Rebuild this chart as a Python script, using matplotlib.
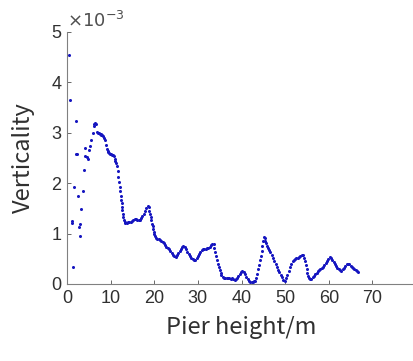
import numpy as np
import matplotlib
matplotlib.use("Agg")
import matplotlib.pyplot as plt

# scattered readings near the pier base
x_base = [0.5, 0.75, 1.1, 1.2, 1.3, 1.7, 2.0, 2.0, 2.2, 2.5, 2.8, 2.9, 3.0, 3.3,
          3.6, 3.8, 4.2, 4.2, 4.5, 4.8, 5.1, 5.35, 5.6, 5.9, 6.1, 6.3, 6.5, 6.7]
y_base = [4.54, 3.66, 1.25, 1.22, 0.34, 1.93, 3.24, 2.58, 2.57, 1.75, 1.13, 0.95, 1.19, 1.49,
          1.85, 2.26, 2.70, 2.53, 2.52, 2.49, 2.66, 2.74, 2.86, 3.00, 3.13, 3.18, 3.19, 3.17]

# readings along the rest of the pier
x_main = [6.9, 7.1, 7.3, 7.5, 7.7, 7.9, 8.1, 8.3, 8.5, 8.7, 8.9, 9.1, 9.3, 9.5, 9.7, 9.9,
          10.1, 10.3, 10.5, 10.7, 10.9, 11.1, 11.3, 11.5, 11.65, 11.8, 11.95, 12.1, 12.2, 12.3,
          12.4, 12.5, 12.6, 12.7, 12.8, 12.9, 13.0, 13.2, 13.4, 13.7, 14.0, 14.3, 14.6, 14.9,
          15.2, 15.5, 15.8, 16.1, 16.4, 16.7, 17.0, 17.3, 17.6, 17.9, 18.2, 18.5, 18.7, 18.85,
          19.0, 19.15, 19.3, 19.45, 19.6, 19.75, 19.9, 20.05, 20.2, 20.4, 20.7, 21.0, 21.3, 21.6,
          21.9, 22.2, 22.5, 22.8, 23.1, 23.4, 23.7, 24.0, 24.3, 24.6, 24.9, 25.2, 25.5, 25.8,
          26.1, 26.4, 26.7, 27.0, 27.3, 27.6, 27.9, 28.2, 28.5, 28.8, 29.1, 29.4, 29.7, 30.0,
          30.3, 30.6, 30.9, 31.2, 31.5, 31.8, 32.1, 32.4, 32.7, 33.0, 33.3, 33.6, 33.8, 34.0,
          34.2, 34.4, 34.6, 34.8, 35.0, 35.2, 35.4, 35.7, 36.0, 36.3, 36.6, 36.9, 37.2, 37.5,
          37.8, 38.1, 38.4, 38.7, 39.0, 39.3, 39.6, 39.9, 40.2, 40.5, 40.8, 41.1, 41.4, 41.7,
          42.0, 42.3, 42.6, 42.9, 43.2, 43.4, 43.6, 43.8, 44.0, 44.2, 44.4, 44.6, 44.8, 44.95,
          45.1, 45.3, 45.5, 45.7, 45.9, 46.1, 46.3, 46.6, 46.9, 47.2, 47.5, 47.8, 48.1, 48.4,
          48.7, 49.0, 49.3, 49.6, 49.9, 50.2, 50.5, 50.8, 51.1, 51.4, 51.7, 52.0, 52.3, 52.6,
          52.9, 53.2, 53.5, 53.8, 54.1, 54.3, 54.5, 54.7, 54.9, 55.1, 55.3, 55.5, 55.7, 56.0,
          56.3, 56.6, 56.9, 57.2, 57.5, 57.8, 58.1, 58.4, 58.7, 59.0, 59.3, 59.6, 59.9, 60.2,
          60.5, 60.8, 61.1, 61.4, 61.7, 62.0, 62.3, 62.6, 62.9, 63.2, 63.5, 63.8, 64.1, 64.4,
          64.7, 65.0, 65.3, 65.6, 65.9, 66.2, 66.5, 66.8]
y_main = [3.02, 3.00, 3.00, 2.98, 2.97, 2.96, 2.95, 2.93, 2.90, 2.85, 2.76, 2.68, 2.64, 2.62, 2.59, 2.58,
          2.57, 2.56, 2.55, 2.53, 2.49, 2.45, 2.40, 2.34, 2.24, 2.12, 2.02, 1.93, 1.84, 1.75,
          1.67, 1.60, 1.53, 1.46, 1.39, 1.32, 1.26, 1.23, 1.22, 1.22, 1.23, 1.23, 1.24, 1.25,
          1.27, 1.28, 1.28, 1.27, 1.26, 1.27, 1.30, 1.34, 1.39, 1.44, 1.50, 1.55, 1.52, 1.45,
          1.39, 1.32, 1.26, 1.20, 1.15, 1.10, 1.04, 0.99, 0.95, 0.92, 0.90, 0.89, 0.87, 0.86,
          0.84, 0.81, 0.78, 0.74, 0.71, 0.69, 0.66, 0.62, 0.58, 0.55, 0.54, 0.57, 0.61, 0.65,
          0.69, 0.73, 0.75, 0.73, 0.69, 0.64, 0.60, 0.56, 0.52, 0.49, 0.47, 0.47, 0.51, 0.55,
          0.59, 0.63, 0.67, 0.69, 0.70, 0.70, 0.71, 0.72, 0.74, 0.77, 0.80, 0.80, 0.72, 0.63,
          0.55, 0.47, 0.40, 0.33, 0.27, 0.21, 0.17, 0.14, 0.12, 0.11, 0.11, 0.12, 0.11, 0.10,
          0.11, 0.09, 0.07, 0.09, 0.12, 0.16, 0.20, 0.24, 0.26, 0.24, 0.19, 0.14, 0.10, 0.06,
          0.04, 0.03, 0.04, 0.05, 0.05, 0.12, 0.20, 0.29, 0.38, 0.47, 0.56, 0.66, 0.76, 0.86,
          0.94, 0.91, 0.86, 0.81, 0.76, 0.72, 0.68, 0.63, 0.57, 0.51, 0.45, 0.39, 0.34, 0.28,
          0.23, 0.18, 0.13, 0.08, 0.05, 0.11, 0.18, 0.25, 0.33, 0.40, 0.45, 0.47, 0.49, 0.51,
          0.52, 0.53, 0.55, 0.57, 0.58, 0.52, 0.45, 0.37, 0.29, 0.22, 0.16, 0.11, 0.09, 0.10,
          0.13, 0.16, 0.19, 0.22, 0.25, 0.27, 0.29, 0.31, 0.34, 0.37, 0.41, 0.45, 0.50, 0.54,
          0.52, 0.48, 0.44, 0.40, 0.36, 0.32, 0.29, 0.27, 0.26, 0.29, 0.32, 0.36, 0.39, 0.40,
          0.39, 0.36, 0.33, 0.31, 0.29, 0.27, 0.25, 0.24]

x_ticks = [0, 10, 20, 30, 40, 50, 60, 70]
y_ticks = [0, 1, 2, 3, 4, 5]

fig = plt.figure(figsize=(4.13, 3.61), dpi=100)
ax = fig.add_axes([67/413, 77/361, 349/413, 252/361])

x = np.array(x_base + x_main)
y = np.array(y_base + y_main) * 1e-3
ax.plot(x, y, linestyle='none', marker='o', markersize=2.2, color='#1515c0', mec='none')

ax.set_xlim(0, 80)
ax.set_ylim(0, 5e-3)
ax.set_xticks(x_ticks)
ax.set_yticks(np.array(y_ticks) * 1e-3)
ax.set_yticklabels([str(t) for t in y_ticks])
ax.tick_params(direction='in', length=3, width=0.6, colors='#505050', labelsize=13,
               pad=4)
for lab in ax.get_xticklabels() + ax.get_yticklabels():
    lab.set_fontfamily('Liberation Sans')
    lab.set_color('#303030')
for s in ['top', 'right']:
    ax.spines[s].set_visible(False)
for s in ['left', 'bottom']:
    ax.spines[s].set_color('#808080')
    ax.spines[s].set_linewidth(0.8)

ax.set_xlabel('Pier height/m', fontsize=17, family='Noto Sans CJK SC', weight='light',
              color='#303030', labelpad=7)
ax.set_ylabel('Verticality', fontsize=17, family='Noto Sans CJK SC', weight='light',
              color='#303030', labelpad=12)
ax.text(0.0, 1.005, r'$\times10^{-3}$', transform=ax.transAxes, fontsize=13,
        color='#505050', ha='left', va='bottom', family='Liberation Sans')

fig.savefig('out.png', dpi=100)
